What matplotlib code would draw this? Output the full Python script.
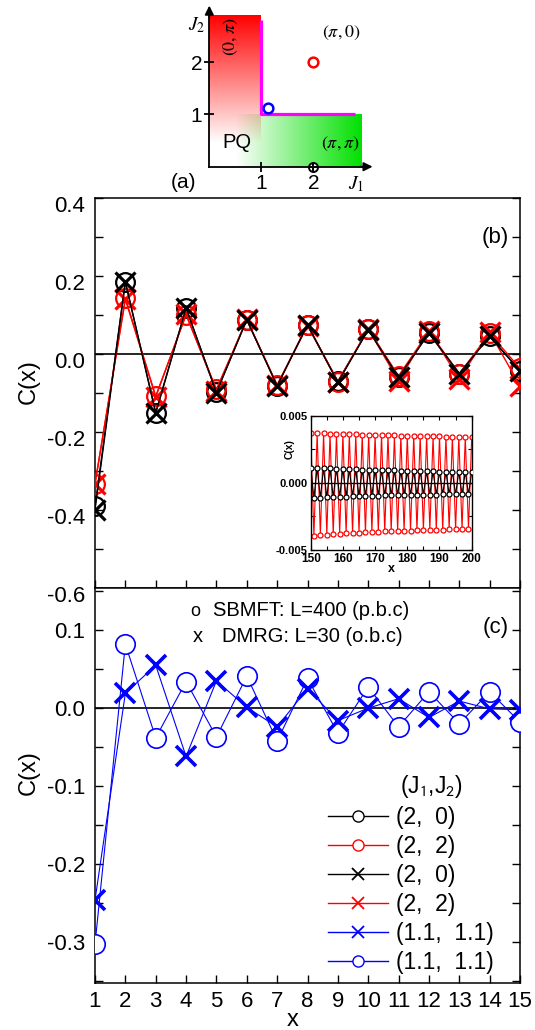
import numpy as np
import matplotlib
matplotlib.use("Agg")
import matplotlib.pyplot as plt
from matplotlib.lines import Line2D
from matplotlib.transforms import ScaledTranslation

plt.rcParams['font.family'] = ['Liberation Sans', 'DejaVu Sans']
plt.rcParams['mathtext.fontset'] = 'stix'

# ---------------- data ----------------
x_sites = list(range(1, 16))
# panel (b): (J1,J2) = (2,0) black, (2,2) red
sbmft_20 = [-0.390, 0.185, -0.150, 0.117, -0.098, 0.088, -0.081, 0.074, -0.070, 0.063, -0.059, 0.054, -0.050, 0.046, -0.043]
sbmft_22 = [-0.333, 0.143, -0.108, 0.100, -0.090, 0.088, -0.080, 0.075, -0.071, 0.064, -0.056, 0.058, -0.051, 0.053, -0.037]
dmrg_20 = [-0.400, 0.185, -0.152, 0.118, -0.099, 0.088, -0.082, 0.075, -0.073, 0.062, -0.060, 0.053, -0.050, 0.045, -0.043]
dmrg_22 = [-0.333, 0.140, -0.110, 0.102, -0.095, 0.089, -0.080, 0.073, -0.072, 0.064, -0.069, 0.060, -0.064, 0.056, -0.082]
# panel (c): (J1,J2) = (1.1,1.1)
sbmft_11 = [-0.303, 0.082, -0.038, 0.034, -0.037, 0.041, -0.042, 0.038, -0.032, 0.027, -0.024, 0.021, -0.020, 0.021, -0.018]
dmrg_11 = [-0.246, 0.019, 0.055, -0.062, 0.035, 0.001, -0.024, 0.025, -0.016, 0.000, 0.012, -0.012, 0.009, -0.001, -0.002]

# inset: x = 150..200, SBMFT L=400
inset_x = list(range(150, 201))
red_even = [0.00372, 0.00370, 0.00368, 0.00367, 0.00365, 0.00364, 0.00362, 0.00361, 0.00359, 0.00358,
            0.00357, 0.00355, 0.00354, 0.00353, 0.00352, 0.00351, 0.00350, 0.00349, 0.00348, 0.00347,
            0.00346, 0.00345, 0.00344, 0.00343, 0.00342, 0.00341]
red_odd = [-0.00395, -0.00390, -0.00386, -0.00382, -0.00379, -0.00376, -0.00373, -0.00370, -0.00368,
           -0.00366, -0.00364, -0.00362, -0.00360, -0.00358, -0.00357, -0.00355, -0.00354, -0.00352,
           -0.00351, -0.00350, -0.00348, -0.00347, -0.00346, -0.00345, -0.00344]
black_even = [0.00114, 0.00112, 0.00110, 0.00108, 0.00106, 0.00104, 0.00102, 0.00100, 0.00099, 0.00097,
              0.00096, 0.00094, 0.00093, 0.00092, 0.00090, 0.00089, 0.00088, 0.00087, 0.00086, 0.00085,
              0.00084, 0.00083, 0.00082, 0.00081, 0.00081, 0.00080]
black_odd = [-0.00114, -0.00111, -0.00109, -0.00107, -0.00105, -0.00103, -0.00101, -0.00099, -0.00098,
             -0.00096, -0.00095, -0.00094, -0.00093, -0.00092, -0.00091, -0.00090, -0.00089, -0.00088,
             -0.00087, -0.00087, -0.00086, -0.00086, -0.00085, -0.00085, -0.00084]

# panel (a): phase diagram
pq_boundary_j1 = [1.0, 1.0, 2.8]
pq_boundary_j2 = [2.8, 1.0, 1.0]
point_j1 = [1.12, 2.0, 2.0]
point_j2 = [1.13, 2.0, 0.0]
point_colors = ['blue', 'red', 'black']

# interleave inset values (even x first)
inset_red = []
inset_black = []
for i in range(len(inset_x)):
    if i % 2 == 0:
        inset_red.append(red_even[i // 2]); inset_black.append(black_even[i // 2])
    else:
        inset_red.append(red_odd[i // 2]); inset_black.append(black_odd[i // 2])

W, H = 535, 1030
fig = plt.figure(figsize=(W / 100, H / 100), dpi=100)


def box(l, t, r, b):
    return [l / W, 1 - b / H, (r - l) / W, (b - t) / H]


# ---------------- panel (b) ----------------
axb = fig.add_axes(box(95, 198, 520, 588))
axb.axhline(0, color='k', lw=1.2, zorder=1)
axb.plot(x_sites, sbmft_20, color='k', lw=1.0, marker='o', ms=13.5, mfc='none', mec='k', mew=1.6, zorder=3)
axb.plot(x_sites, sbmft_22, color='red', lw=1.0, marker='o', ms=13.5, mfc='none', mec='red', mew=1.6, zorder=3)
axb.plot(x_sites, dmrg_22, color='red', lw=1.0, marker='x', ms=14, mec='red', mew=2.3, zorder=4)
axb.plot(x_sites, dmrg_20, color='k', lw=1.0, marker='x', ms=14, mec='k', mew=2.3, zorder=5)
axb.set_xlim(1, 15)
axb.set_ylim(-0.6, 0.4)
axb.set_xticks(x_sites)
yt = [-0.6, -0.4, -0.2, 0.0, 0.2, 0.4]
axb.set_yticks(yt, labels=['-0.6', '-0.4', '-0.2', '0.0', '0.2', '0.4'])
axb.set_yticks(np.arange(-0.6, 0.41, 0.1), minor=True)
axb.tick_params(which='both', direction='in', left=True, right=True, top=False, bottom=True,
                length=6, width=1.0, labelbottom=False, labelsize=16, pad=7)
for sp in axb.spines.values():
    sp.set_linewidth(1.1)
axb.set_ylabel('C(x)', fontsize=17)
axb.yaxis.set_label_coords((40 - 95) / 425, (588 - 382) / 390)
axb.text(0.942, 0.9, '(b)', transform=axb.transAxes, fontsize=16, ha='center', va='center')
for t in axb.yaxis.get_major_ticks():
    t.label1.set_transform(t.label1.get_transform() + ScaledTranslation(0, -0.06, fig.dpi_scale_trans))

# ---------------- inset ----------------
axi = fig.add_axes(box(310.7, 415.7, 471.7, 550))
axi.axhline(0, color='k', lw=1.0, zorder=1)
axi.plot(inset_x, inset_red, color='red', lw=0.8, marker='o', ms=3.6, mfc='white', mec='red', mew=0.9, zorder=2)
axi.plot(inset_x, inset_black, color='k', lw=0.8, marker='o', ms=3.6, mfc='white', mec='k', mew=0.9, zorder=3)
axi.set_xlim(150, 200)
axi.set_ylim(-0.005, 0.005)
axi.set_xticks([150, 160, 170, 180, 190, 200], labels=['150', '160', '170', '180', '190', '200'],
               fontweight='bold', fontsize=8.5)
axi.set_xticks(np.arange(150, 201, 5), minor=True)
axi.set_yticks([-0.005, 0.0, 0.005], labels=['-0.005', '0.000', '0.005'], fontweight='bold', fontsize=8)
axi.set_yticks([-0.005, -0.0025, 0.0, 0.0025, 0.005], minor=True)
axi.tick_params(which='both', direction='in', top=True, right=True, length=3, width=0.8, pad=2)
for sp in axi.spines.values():
    sp.set_linewidth(1.0)
axi.set_ylabel('C(x)', fontsize=7.5, fontweight='bold')
axi.yaxis.set_label_coords(-0.1, 0.75)
axi.set_xlabel('x', fontsize=9, fontweight='bold', labelpad=-1)

# ---------------- panel (c) ----------------
axc = fig.add_axes(box(95, 588, 520, 982.7))
axc.axhline(0, color='k', lw=1.2, zorder=1)
axc.plot(x_sites, sbmft_11, color='blue', lw=0.8, marker='o', ms=14, mfc='white', mec='blue', mew=1.2, zorder=3)
axc.plot(x_sites, dmrg_11, color='blue', lw=0.8, marker='x', ms=14, mec='blue', mew=2.6, zorder=4)
axc.set_xlim(1, 15)
axc.set_ylim(-0.352, 0.154)
axc.set_xticks(x_sites, labels=[str(v) for v in x_sites])
axc.set_yticks([-0.3, -0.2, -0.1, 0.0, 0.1], labels=['-0.3', '-0.2', '-0.1', '0.0', '0.1'])
axc.set_yticks(np.arange(-0.35, 0.16, 0.05), minor=True)
axc.tick_params(which='both', direction='in', left=True, right=True, top=False, bottom=True,
                length=6, width=1.0, labelsize=16, pad=7)
axc.tick_params(axis='x', pad=6)
for sp in axc.spines.values():
    sp.set_linewidth(1.1)
axc.set_ylabel('C(x)', fontsize=17)
axc.yaxis.set_label_coords((40 - 95) / 425, (982.7 - 773) / 394.7)
axc.set_xlabel('x', fontsize=17)
axc.xaxis.set_label_coords((293 - 95) / 425, (982.7 - 1009) / 394.7)
axc.text(0.942, 0.9, '(c)', transform=axc.transAxes, fontsize=16, ha='center', va='center')

fig.text(195 / W, 1 - 611 / H, 'o', fontsize=13, ha='center', va='center')
fig.text(213 / W, 1 - 611 / H, 'SBMFT: L=400 (p.b.c)', fontsize=14.5, ha='left', va='center')
fig.text(198 / W, 1 - 637 / H, 'x', fontsize=14.5, ha='center', va='center')
fig.text(222 / W, 1 - 637 / H, 'DMRG: L=30 (o.b.c)', fontsize=14.5, ha='left', va='center')

handles = [
    Line2D([], [], color='k', lw=1, marker='o', ms=8, mfc='white', mec='k', mew=1.0),
    Line2D([], [], color='red', lw=1, marker='o', ms=8, mfc='white', mec='red', mew=1.0),
    Line2D([], [], color='k', lw=1, marker='x', ms=9, mec='k', mew=1.3),
    Line2D([], [], color='red', lw=1, marker='x', ms=9, mec='red', mew=1.3),
    Line2D([], [], color='blue', lw=1, marker='x', ms=9, mec='blue', mew=1.3),
    Line2D([], [], color='blue', lw=1, marker='o', ms=8, mfc='white', mec='blue', mew=1.0),
]
labels = ['(2,  0)', '(2,  2)', '(2,  0)', '(2,  2)', '(1.1,  1.1)', '(1.1,  1.1)']
leg = axc.legend(handles, labels, loc='upper left', bbox_to_anchor=(328 / W, 1 - 806 / H),
                 bbox_transform=fig.transFigure, frameon=False, fontsize=16.5, handlelength=2.6,
                 handletextpad=0.35, labelspacing=0.26, borderpad=0, borderaxespad=0, numpoints=1)
axc.text(400 / W, 1 - 786 / H, '(J$_1$,J$_2$)', transform=fig.transFigure, fontsize=16.5,
         ha='left', va='center', math_fontfamily='stixsans')

# ---------------- panel (a) ----------------
ox, oy, sx, sy = 209.3, 166.7, 52.0, 52.3
xl, yl = (-0.6, 3.4), (-0.5, 3.15)
axa = fig.add_axes(box(ox + xl[0] * sx, oy - yl[1] * sy, ox + xl[1] * sx, oy - yl[0] * sy))
axa.patch.set_alpha(0)

ny = 300
gy = np.linspace(0, 2.9, ny)
fr = np.clip((gy - 0.45) / (2.9 - 0.45), 0, 1)
red_img = np.zeros((ny, 1, 4))
red_img[..., 0] = 1.0
red_img[..., 3] = fr[:, None]
nx = 300
gx = np.linspace(0, 2.93, nx)
fg = np.clip((gx - 0.5) / (2.93 - 0.5), 0, 1)
green_img = np.zeros((1, nx, 4))
green_img[..., 1] = 0.88
green_img[..., 3] = fg[None, :]
axa.imshow(green_img, extent=[0, 2.93, 0, 1.0], origin='lower', aspect='auto', interpolation='bilinear', zorder=0)
axa.imshow(red_img, extent=[0, 1.0, 0, 2.9], origin='lower', aspect='auto', interpolation='bilinear', zorder=0)
axa.set_xlim(*xl)
axa.set_ylim(*yl)
axa.set_aspect('auto')

axa.plot(pq_boundary_j1, pq_boundary_j2, color='#ff00ff', lw=2.3, solid_capstyle='butt', zorder=2)
for j1, j2, c in zip(point_j1, point_j2, point_colors):
    if c == 'black':
        axa.plot([j1], [j2], marker='o', ms=6.5, mfc='white', mec=c, mew=1.4, clip_on=False, zorder=5)
        axa.plot([j1], [j2], marker='+', ms=6.5, mec=c, mew=1.4, clip_on=False, zorder=6)
    else:
        axa.plot([j1], [j2], marker='o', ms=7, mfc='none', mec=c, mew=1.8, zorder=5)

for side in ['top', 'right']:
    axa.spines[side].set_visible(False)
axa.spines['left'].set_position(('data', 0))
axa.spines['bottom'].set_position(('data', 0))
axa.spines['left'].set_bounds(0, 2.95)
axa.spines['bottom'].set_bounds(0, 3.0)
for side in ['left', 'bottom']:
    axa.spines[side].set_linewidth(1.3)
axa.annotate('', xy=(3.14, 0), xytext=(2.9, 0),
             arrowprops=dict(arrowstyle='-|>', color='k', lw=1.3, mutation_scale=13, shrinkA=0, shrinkB=0))
axa.annotate('', xy=(0, 3.08), xytext=(0, 2.85),
             arrowprops=dict(arrowstyle='-|>', color='k', lw=1.3, mutation_scale=13, shrinkA=0, shrinkB=0))
axa.set_xticks([1, 2], labels=['1', '2'])
axa.set_yticks([1, 2], labels=['1', '2'])
axa.tick_params(direction='inout', length=7, width=1.3, labelsize=15, pad=1.5)

axa.text(-0.245, 2.70, '$J_2$', fontsize=14, ha='center', va='center')
axa.text(2.82, -0.33, '$J_1$', fontsize=14, ha='center', va='center')
axa.text(-0.49, -0.30, '(a)', fontsize=15, ha='center', va='center')
axa.text(0.54, 0.47, 'PQ', fontsize=14.5, ha='center', va='center')
axa.text(2.54, 2.55, r'$(\pi,0)$', fontsize=13, ha='center', va='center')
axa.text(2.52, 0.43, r'$(\pi,\pi)$', fontsize=13, ha='center', va='center')
axa.text(0.41, 2.49, r'$(0,\pi)$', fontsize=13, ha='center', va='center', rotation=90)

fig.savefig('out.png', dpi=100)
